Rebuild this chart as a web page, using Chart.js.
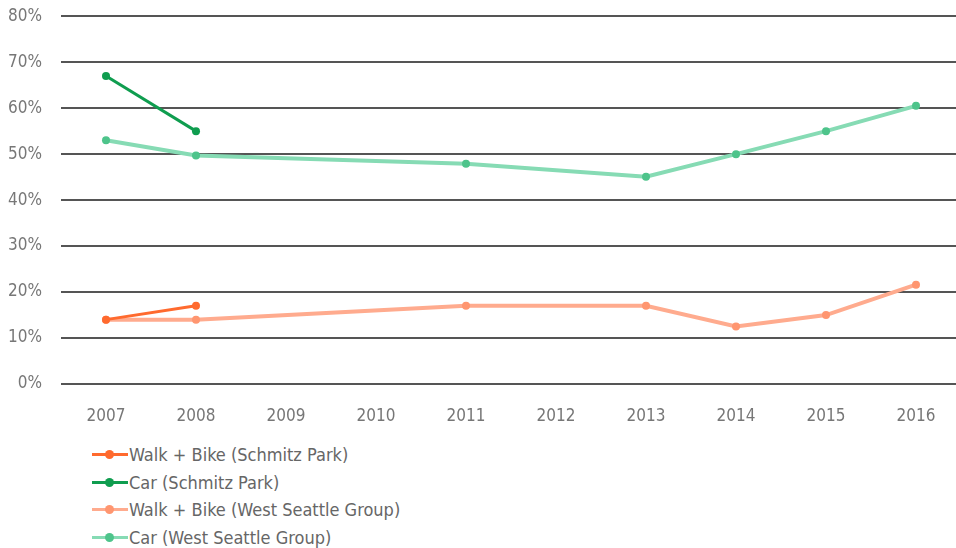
<!DOCTYPE html>
<html>
<head>
<meta charset="utf-8">
<script src="https://cdn.jsdelivr.net/npm/chart.js@4/dist/chart.umd.min.js"></script>
<style>
  body { margin: 0; background: #fff; overflow: hidden; font-family: "Liberation Sans Narrow", "DejaVu Sans Condensed", Roboto, sans-serif; }
  #chart { position: absolute; left: 0; top: -13px; }
  #legend { position: absolute; left: 92px; top: 441px; margin: 0; padding: 0; list-style: none; }
  #legend li { height: 27.5px; display: flex; align-items: center; font-size: 18px; color: #666; }
  #legend .mark { position: relative; width: 36px; height: 3px; margin-right: 1px; }
  #legend .dot { position: absolute; left: 13px; top: -3px; width: 9px; height: 9px; border-radius: 50%; }
</style>
</head>
<body>
<canvas id="chart" width="965" height="443"></canvas>
<ul id="legend"></ul>
<script>
const years = ["2007", "2008", "2009", "2010", "2011", "2012", "2013", "2014", "2015", "2016"];
const walkSchmitz = [14, 17, null, null, null, null, null, null, null, null];
const carSchmitz = [67, 55, null, null, null, null, null, null, null, null];
const walkWest = [14, 14, null, null, 17, null, 17, 12.5, 15, 21.6];
const carWest = [53, 49.7, null, null, 47.9, null, 45.1, 50, 55, 60.5];
const yTicks = [0, 10, 20, 30, 40, 50, 60, 70, 80];

const series = [
  { label: "Walk + Bike (Schmitz Park)", data: walkSchmitz, color: "#ff6a2e", point: "#ff6a2e", width: 3 },
  { label: "Car (Schmitz Park)", data: carSchmitz, color: "#0f9d4f", point: "#0f9d4f", width: 3 },
  { label: "Walk + Bike (West Seattle Group)", data: walkWest, color: "#ffab8e", point: "#ff9670", width: 4 },
  { label: "Car (West Seattle Group)", data: carWest, color: "#86dbb4", point: "#4ec48b", width: 4 },
];

const font = { family: '"Liberation Sans Narrow", "DejaVu Sans Condensed", Roboto, sans-serif', size: 17 };

new Chart(document.getElementById("chart"), {
  type: "line",
  data: {
    labels: years,
    datasets: series.map((s) => ({
      label: s.label,
      data: s.data,
      borderColor: s.color,
      backgroundColor: s.point,
      pointBackgroundColor: s.point,
      pointBorderWidth: 0,
      borderWidth: s.width,
      pointRadius: 4,
      spanGaps: true,
      tension: 0,
    })),
  },
  options: {
    responsive: false,
    animation: false,
    layout: { padding: 0 },
    plugins: { legend: { display: false }, tooltip: { enabled: false } },
    scales: {
      x: {
        offset: true,
        grid: { display: false },
        border: { display: false },
        ticks: { color: "#777", font: font, padding: 14, maxRotation: 0 },
        afterFit: (axis) => { axis.height = 46; },
      },
      y: {
        min: 0,
        max: 80,
        afterBuildTicks: (axis) => { axis.ticks = yTicks.map((v) => ({ value: v })); },
        grid: { color: "#555", lineWidth: 2, drawTicks: false },
        border: { display: false },
        ticks: { color: "#777", font: font, padding: 19, callback: (v) => v + "%" },
        afterFit: (axis) => { axis.width = 61; },
      },
    },
  },
});

const legend = document.getElementById("legend");
series.forEach((s) => {
  const li = document.createElement("li");
  li.innerHTML = '<span class="mark" style="background:' + s.color + '"><span class="dot" style="background:' + s.point + '"></span></span>' + s.label;
  legend.appendChild(li);
});
</script>
</body>
</html>
